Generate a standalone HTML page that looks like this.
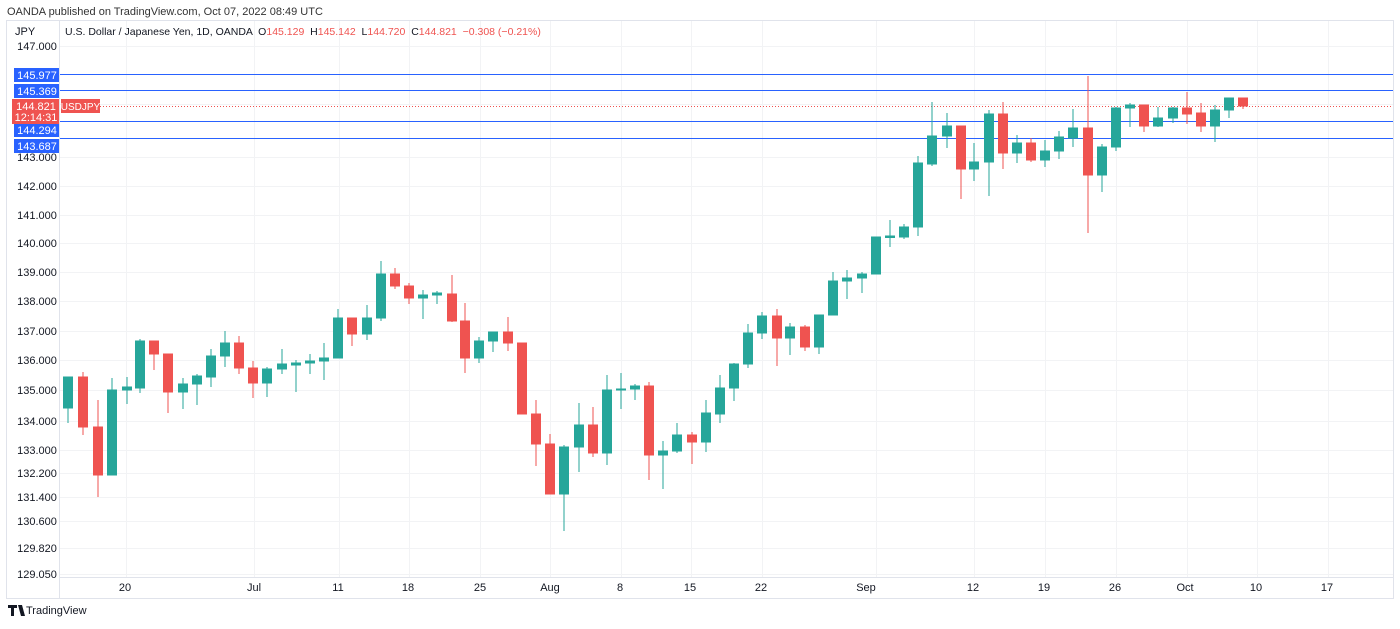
<!DOCTYPE html>
<html><head><meta charset="utf-8"><style>
body{margin:0;background:#fff;width:1400px;height:624px;overflow:hidden;font-family:"Liberation Sans",sans-serif}
</style></head><body>
<svg width="1400" height="624" xmlns="http://www.w3.org/2000/svg" font-family="Liberation Sans, sans-serif">
<rect width="1400" height="624" fill="#fff"/>
<text x="7" y="15" font-size="11" fill="#333">OANDA published on TradingView.com, Oct 07, 2022 08:49 UTC</text>
<rect x="6.5" y="20.5" width="1387" height="578" fill="none" stroke="#e0e3eb"/>
<line x1="59.5" y1="21" x2="59.5" y2="598" stroke="#e0e3eb"/>
<line x1="60" y1="577.5" x2="1393" y2="577.5" stroke="#e0e3eb"/>
<g stroke="#f2f3f5" stroke-width="1">
<line x1="60" x2="1393" y1="46.5" y2="46.5"/><line x1="60" x2="1393" y1="157.5" y2="157.5"/><line x1="60" x2="1393" y1="186.5" y2="186.5"/><line x1="60" x2="1393" y1="215.5" y2="215.5"/><line x1="60" x2="1393" y1="243.5" y2="243.5"/><line x1="60" x2="1393" y1="272.5" y2="272.5"/><line x1="60" x2="1393" y1="301.5" y2="301.5"/><line x1="60" x2="1393" y1="331.5" y2="331.5"/><line x1="60" x2="1393" y1="360.5" y2="360.5"/><line x1="60" x2="1393" y1="390.5" y2="390.5"/><line x1="60" x2="1393" y1="421.5" y2="421.5"/><line x1="60" x2="1393" y1="450.5" y2="450.5"/><line x1="60" x2="1393" y1="473.5" y2="473.5"/><line x1="60" x2="1393" y1="497.5" y2="497.5"/><line x1="60" x2="1393" y1="521.5" y2="521.5"/><line x1="60" x2="1393" y1="548.5" y2="548.5"/><line x1="60" x2="1393" y1="574.5" y2="574.5"/><line x1="60" x2="1393" y1="104.5" y2="104.5"/>
<line y1="21" y2="577" x1="126.5" x2="126.5"/><line y1="21" y2="577" x1="254.5" x2="254.5"/><line y1="21" y2="577" x1="339.5" x2="339.5"/><line y1="21" y2="577" x1="409.5" x2="409.5"/><line y1="21" y2="577" x1="480.5" x2="480.5"/><line y1="21" y2="577" x1="550.5" x2="550.5"/><line y1="21" y2="577" x1="621.5" x2="621.5"/><line y1="21" y2="577" x1="691.5" x2="691.5"/><line y1="21" y2="577" x1="762.5" x2="762.5"/><line y1="21" y2="577" x1="876.5" x2="876.5"/><line y1="21" y2="577" x1="974.5" x2="974.5"/><line y1="21" y2="577" x1="1045.5" x2="1045.5"/><line y1="21" y2="577" x1="1116.5" x2="1116.5"/><line y1="21" y2="577" x1="1187.5" x2="1187.5"/><line y1="21" y2="577" x1="1257.5" x2="1257.5"/><line y1="21" y2="577" x1="1328.5" x2="1328.5"/>
</g>
<g stroke="#2962ff" stroke-width="1">
<line x1="60" x2="1393" y1="74.5" y2="74.5"/><line x1="60" x2="1393" y1="90.5" y2="90.5"/><line x1="60" x2="1393" y1="121.5" y2="121.5"/><line x1="60" x2="1393" y1="138.5" y2="138.5"/>
</g>
<line x1="100" x2="1393" y1="106.5" y2="106.5" stroke="#ef5350" stroke-dasharray="1,2"/>
<g fill="#26a69a" stroke="#26a69a" stroke-width="1">
<line x1="68" x2="68" y1="377" y2="423"/><rect x="63.5" y="377" width="9" height="31"/>
<line x1="112" x2="112" y1="378" y2="475"/><rect x="107.5" y="390" width="9" height="85"/>
<line x1="127" x2="127" y1="377" y2="404"/><rect x="122.5" y="387" width="9" height="3"/>
<line x1="140" x2="140" y1="339" y2="393"/><rect x="135.5" y="341" width="9" height="47"/>
<line x1="183" x2="183" y1="378" y2="409"/><rect x="178.5" y="384" width="9" height="8"/>
<line x1="197" x2="197" y1="374" y2="405"/><rect x="192.5" y="376" width="9" height="8"/>
<line x1="211" x2="211" y1="349" y2="387"/><rect x="206.5" y="356" width="9" height="21"/>
<line x1="225" x2="225" y1="331" y2="367"/><rect x="220.5" y="343" width="9" height="13"/>
<line x1="267" x2="267" y1="367" y2="397"/><rect x="262.5" y="369" width="9" height="14"/>
<line x1="282" x2="282" y1="349" y2="374"/><rect x="277.5" y="364" width="9" height="5"/>
<line x1="296" x2="296" y1="360" y2="392"/><rect x="291.5" y="363" width="9" height="2"/>
<line x1="310" x2="310" y1="354" y2="374"/><rect x="305.5" y="361" width="9" height="2"/>
<line x1="324" x2="324" y1="343" y2="380"/><rect x="319.5" y="358" width="9" height="3"/>
<line x1="338" x2="338" y1="309" y2="358"/><rect x="333.5" y="318" width="9" height="40"/>
<line x1="367" x2="367" y1="305" y2="340"/><rect x="362.5" y="318" width="9" height="16"/>
<line x1="381" x2="381" y1="261" y2="321"/><rect x="376.5" y="274" width="9" height="44"/>
<line x1="423" x2="423" y1="290" y2="319"/><rect x="418.5" y="295" width="9" height="3"/>
<line x1="437" x2="437" y1="291" y2="304"/><rect x="432.5" y="293" width="9" height="2"/>
<line x1="479" x2="479" y1="337" y2="363"/><rect x="474.5" y="341" width="9" height="17"/>
<line x1="493" x2="493" y1="332" y2="352"/><rect x="488.5" y="332" width="9" height="9"/>
<line x1="564" x2="564" y1="445" y2="531"/><rect x="559.5" y="447" width="9" height="47"/>
<line x1="579" x2="579" y1="403" y2="472"/><rect x="574.5" y="425" width="9" height="22"/>
<line x1="607" x2="607" y1="375" y2="465"/><rect x="602.5" y="390" width="9" height="63"/>
<line x1="621" x2="621" y1="373" y2="409"/><rect x="616.5" y="389" width="9" height="1"/>
<line x1="635" x2="635" y1="384" y2="400"/><rect x="630.5" y="386" width="9" height="3"/>
<line x1="663" x2="663" y1="441" y2="489"/><rect x="658.5" y="451" width="9" height="4"/>
<line x1="677" x2="677" y1="423" y2="453"/><rect x="672.5" y="435" width="9" height="16"/>
<line x1="706" x2="706" y1="400" y2="452"/><rect x="701.5" y="413" width="9" height="29"/>
<line x1="720" x2="720" y1="375" y2="423"/><rect x="715.5" y="388" width="9" height="26"/>
<line x1="734" x2="734" y1="363" y2="401"/><rect x="729.5" y="364" width="9" height="24"/>
<line x1="748" x2="748" y1="324" y2="368"/><rect x="743.5" y="333" width="9" height="31"/>
<line x1="762" x2="762" y1="312" y2="339"/><rect x="757.5" y="316" width="9" height="17"/>
<line x1="790" x2="790" y1="323" y2="355"/><rect x="785.5" y="327" width="9" height="11"/>
<line x1="819" x2="819" y1="315" y2="354"/><rect x="814.5" y="315" width="9" height="32"/>
<line x1="833" x2="833" y1="272" y2="315"/><rect x="828.5" y="281" width="9" height="34"/>
<line x1="847" x2="847" y1="270" y2="299"/><rect x="842.5" y="278" width="9" height="3"/>
<line x1="862" x2="862" y1="272" y2="293"/><rect x="857.5" y="274" width="9" height="4"/>
<line x1="876" x2="876" y1="237" y2="274"/><rect x="871.5" y="237" width="9" height="37"/>
<line x1="890" x2="890" y1="220" y2="247"/><rect x="885.5" y="236" width="9" height="1.5"/>
<line x1="904" x2="904" y1="224" y2="239"/><rect x="899.5" y="227" width="9" height="10"/>
<line x1="918" x2="918" y1="156" y2="236"/><rect x="913.5" y="163" width="9" height="64"/>
<line x1="932" x2="932" y1="102" y2="166"/><rect x="927.5" y="136" width="9" height="28"/>
<line x1="947" x2="947" y1="113" y2="148"/><rect x="942.5" y="126" width="9" height="10"/>
<line x1="974" x2="974" y1="143" y2="181"/><rect x="969.5" y="162" width="9" height="7"/>
<line x1="989" x2="989" y1="110" y2="196"/><rect x="984.5" y="114" width="9" height="48"/>
<line x1="1017" x2="1017" y1="135" y2="163"/><rect x="1012.5" y="143" width="9" height="10"/>
<line x1="1045" x2="1045" y1="140" y2="167"/><rect x="1040.5" y="151" width="9" height="9"/>
<line x1="1059" x2="1059" y1="131" y2="159"/><rect x="1054.5" y="137" width="9" height="14"/>
<line x1="1073" x2="1073" y1="109" y2="147"/><rect x="1068.5" y="128" width="9" height="10"/>
<line x1="1102" x2="1102" y1="144" y2="192"/><rect x="1097.5" y="147" width="9" height="28"/>
<line x1="1116" x2="1116" y1="107" y2="151"/><rect x="1111.5" y="108" width="9" height="39"/>
<line x1="1130" x2="1130" y1="103" y2="127"/><rect x="1125.5" y="105" width="9" height="3"/>
<line x1="1158" x2="1158" y1="107" y2="127"/><rect x="1153.5" y="118" width="9" height="8"/>
<line x1="1173" x2="1173" y1="107" y2="123"/><rect x="1168.5" y="108" width="9" height="10"/>
<line x1="1215" x2="1215" y1="105" y2="142"/><rect x="1210.5" y="110" width="9" height="16"/>
<line x1="1229" x2="1229" y1="98" y2="118"/><rect x="1224.5" y="98" width="9" height="12"/>
</g>
<g fill="#ef5350" stroke="#ef5350" stroke-width="1">
<line x1="83" x2="83" y1="372" y2="435"/><rect x="78.5" y="377" width="9" height="50"/>
<line x1="98" x2="98" y1="400" y2="497"/><rect x="93.5" y="427" width="9" height="48"/>
<line x1="154" x2="154" y1="341" y2="370"/><rect x="149.5" y="341" width="9" height="13"/>
<line x1="168" x2="168" y1="354" y2="413"/><rect x="163.5" y="354" width="9" height="38"/>
<line x1="239" x2="239" y1="336" y2="374"/><rect x="234.5" y="343" width="9" height="25"/>
<line x1="253" x2="253" y1="361" y2="398"/><rect x="248.5" y="368" width="9" height="15"/>
<line x1="352" x2="352" y1="318" y2="346"/><rect x="347.5" y="318" width="9" height="16"/>
<line x1="395" x2="395" y1="268" y2="289"/><rect x="390.5" y="274" width="9" height="12"/>
<line x1="409" x2="409" y1="283" y2="304"/><rect x="404.5" y="286" width="9" height="12"/>
<line x1="452" x2="452" y1="275" y2="322"/><rect x="447.5" y="294" width="9" height="27"/>
<line x1="465" x2="465" y1="303" y2="373"/><rect x="460.5" y="321" width="9" height="37"/>
<line x1="508" x2="508" y1="317" y2="351"/><rect x="503.5" y="332" width="9" height="11"/>
<line x1="522" x2="522" y1="343" y2="414"/><rect x="517.5" y="343" width="9" height="71"/>
<line x1="536" x2="536" y1="400" y2="466"/><rect x="531.5" y="414" width="9" height="30"/>
<line x1="550" x2="550" y1="434" y2="494"/><rect x="545.5" y="444" width="9" height="50"/>
<line x1="593" x2="593" y1="407" y2="457"/><rect x="588.5" y="425" width="9" height="28"/>
<line x1="649" x2="649" y1="382" y2="480"/><rect x="644.5" y="386" width="9" height="69"/>
<line x1="692" x2="692" y1="432" y2="464"/><rect x="687.5" y="435" width="9" height="7"/>
<line x1="777" x2="777" y1="309" y2="366"/><rect x="772.5" y="316" width="9" height="22"/>
<line x1="805" x2="805" y1="325" y2="351"/><rect x="800.5" y="327" width="9" height="20"/>
<line x1="961" x2="961" y1="126" y2="199"/><rect x="956.5" y="126" width="9" height="43"/>
<line x1="1003" x2="1003" y1="102" y2="169"/><rect x="998.5" y="114" width="9" height="39"/>
<line x1="1031" x2="1031" y1="138" y2="162"/><rect x="1026.5" y="143" width="9" height="17"/>
<line x1="1088" x2="1088" y1="76" y2="233"/><rect x="1083.5" y="128" width="9" height="47"/>
<line x1="1144" x2="1144" y1="105" y2="132"/><rect x="1139.5" y="105" width="9" height="21"/>
<line x1="1187" x2="1187" y1="92" y2="124"/><rect x="1182.5" y="108" width="9" height="6"/>
<line x1="1201" x2="1201" y1="103" y2="132"/><rect x="1196.5" y="113" width="9" height="13"/>
<line x1="1243" x2="1243" y1="98" y2="109"/><rect x="1238.5" y="98" width="9" height="8"/>
</g>
<g font-size="11" fill="#131722" text-anchor="middle">
<text x="37" y="50">147.000</text><text x="37" y="161">143.000</text><text x="37" y="190">142.000</text><text x="37" y="219">141.000</text><text x="37" y="247">140.000</text><text x="37" y="276">139.000</text><text x="37" y="305">138.000</text><text x="37" y="335">137.000</text><text x="37" y="364">136.000</text><text x="37" y="394">135.000</text><text x="37" y="425">134.000</text><text x="37" y="454">133.000</text><text x="37" y="477">132.200</text><text x="37" y="501">131.400</text><text x="37" y="525">130.600</text><text x="37" y="552">129.820</text><text x="37" y="578">129.050</text>
<text x="125" y="591">20</text><text x="254" y="591">Jul</text><text x="338" y="591">11</text><text x="408" y="591">18</text><text x="480" y="591">25</text><text x="550" y="591">Aug</text><text x="620" y="591">8</text><text x="690" y="591">15</text><text x="761" y="591">22</text><text x="866" y="591">Sep</text><text x="973" y="591">12</text><text x="1044" y="591">19</text><text x="1115" y="591">26</text><text x="1185" y="591">Oct</text><text x="1256" y="591">10</text><text x="1327" y="591">17</text>
</g>
<text x="15" y="35" font-size="11" fill="#131722">JPY</text>
<text x="65" y="35" font-size="10.5" fill="#131722" xml:space="preserve">U.S. Dollar / Japanese Yen, 1D, OANDA  O<tspan fill="#ef5350">145.129</tspan>  H<tspan fill="#ef5350">145.142</tspan>  L<tspan fill="#ef5350">144.720</tspan>  C<tspan fill="#ef5350">144.821</tspan>  <tspan fill="#ef5350">−0.308 (−0.21%)</tspan></text>
<g font-size="11" fill="#fff" text-anchor="middle">
<rect x="14" y="68" width="45" height="14" fill="#2962ff"/><text x="37" y="79">145.977</text>
<rect x="14" y="84" width="45" height="14" fill="#2962ff"/><text x="37" y="95">145.369</text>
<rect x="14" y="123" width="45" height="14" fill="#2962ff"/><text x="37" y="134">144.294</text>
<rect x="14" y="139" width="45" height="14" fill="#2962ff"/><text x="37" y="150">143.687</text>
<rect x="12" y="99" width="47" height="25" fill="#ef5350"/><text x="36" y="110">144.821</text><text x="36" y="121">12:14:31</text>
<rect x="61" y="99" width="39" height="14" fill="#ef5350"/><text x="80.5" y="110" font-size="10">USDJPY</text>
</g>
<path d="M8 605h9v3h-3v8h-3v-8h-3z M18 605h4l3 11h-4z" fill="#131722"/>
<text x="26" y="614" font-size="11" fill="#131722">TradingView</text>
</svg>
</body></html>
